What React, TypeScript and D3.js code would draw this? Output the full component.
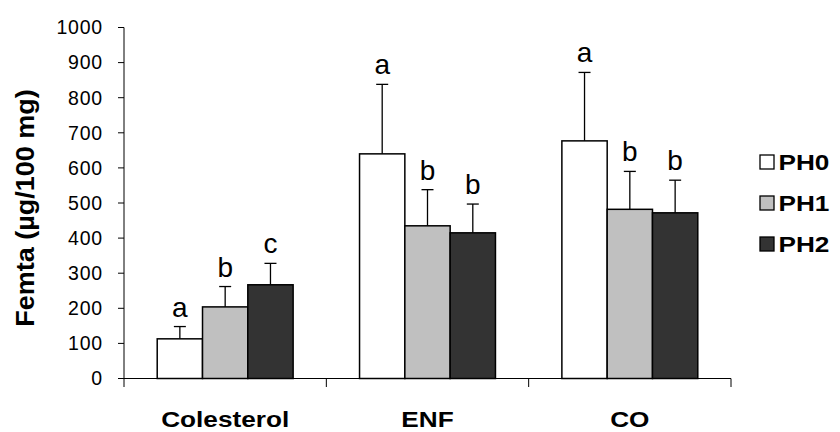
import React from "react";
import * as d3 from "d3";

// Groups along the x axis and the three treatments
const categories = ["Colesterol", "ENF", "CO"];
const seriesNames = ["PH0", "PH1", "PH2"];

// Mean values (µg/100 mg) per treatment, in category order
const ph0Values = [113, 640, 677];
const ph1Values = [204, 435, 482];
const ph2Values = [267, 415, 472];

// Upper error-bar lengths (standard deviation)
const ph0Errors = [35, 198, 195];
const ph1Errors = [58, 103, 108];
const ph2Errors = [61, 82, 93];

// Significance letters placed above each error bar
const ph0Letters = ["a", "a", "a"];
const ph1Letters = ["b", "b", "b"];
const ph2Letters = ["c", "b", "b"];

const yTicks = [0, 100, 200, 300, 400, 500, 600, 700, 800, 900, 1000];

const fills = ["#ffffff", "#c0c0c0", "#333333"];

const FONT = "'Liberation Sans', Arial, Helvetica, sans-serif";

const W = 840;
const H = 432;
const plot = { left: 124, right: 731, top: 27.5, bottom: 378.5 };

type Series = { name: string; values: number[]; errors: number[]; letters: string[]; fill: string };

const series: Series[] = [
  { name: seriesNames[0], values: ph0Values, errors: ph0Errors, letters: ph0Letters, fill: fills[0] },
  { name: seriesNames[1], values: ph1Values, errors: ph1Errors, letters: ph1Letters, fill: fills[1] },
  { name: seriesNames[2], values: ph2Values, errors: ph2Errors, letters: ph2Letters, fill: fills[2] },
];

export default function App() {
  const y = d3.scaleLinear().domain([0, 1000]).range([plot.bottom, plot.top]);
  const x0 = d3.scaleBand<string>().domain(categories).range([plot.left, plot.right]).padding(0);
  const x1 = d3
    .scaleBand<string>()
    .domain(seriesNames)
    .range([0, x0.bandwidth()])
    .paddingInner(0)
    .paddingOuter(0.733);

  const boldStretch = 1.19;

  return (
    <svg
      width={W}
      height={H}
      style={{ position: "absolute", left: 0, top: 0, background: "#fff" }}
      fontFamily={FONT}
    >
      <rect x={0} y={0} width={W} height={H} fill="#fff" />

      {/* y axis */}
      <line x1={plot.left} x2={plot.left} y1={plot.top} y2={plot.bottom + 8.5} stroke="#000" strokeWidth={1} />
      {yTicks.map((t) => (
        <g key={t}>
          <line x1={plot.left - 6} x2={plot.left} y1={y(t)} y2={y(t)} stroke="#000" strokeWidth={1} />
          <text
            x={plot.left - 21}
            y={y(t)}
            dy="0.35em"
            textAnchor="end"
            fontSize={19.5}
            letterSpacing={0.8}
            fill="#000"
          >
            {t}
          </text>
        </g>
      ))}

      {/* x axis with category separators */}
      <line x1={plot.left} x2={plot.right} y1={plot.bottom} y2={plot.bottom} stroke="#000" strokeWidth={1} />
      {categories.map((c) => {
        const xr = (x0(c) as number) + x0.bandwidth();
        return <line key={c} x1={xr} x2={xr} y1={plot.bottom} y2={plot.bottom + 8.5} stroke="#000" strokeWidth={1} />;
      })}

      {/* bars, error bars and letters */}
      {categories.map((c, ci) => (
        <g key={c} transform={`translate(${x0(c)},0)`}>
          {series.map((s) => {
            const bx = x1(s.name) as number;
            const bw = x1.bandwidth();
            const v = s.values[ci];
            const top = y(v + s.errors[ci]);
            const cx = bx + bw / 2;
            return (
              <g key={s.name}>
                <line x1={cx} x2={cx} y1={y(v)} y2={top} stroke="#000" strokeWidth={1.3} />
                <line x1={cx - 6} x2={cx + 6} y1={top} y2={top} stroke="#000" strokeWidth={1.3} />
                <rect
                  x={bx}
                  y={y(v)}
                  width={bw}
                  height={y(0) - y(v)}
                  fill={s.fill}
                  stroke="#000"
                  strokeWidth={1.5}
                />
                <text x={cx} y={top - 10} textAnchor="middle" fontSize={28} fill="#000">
                  {s.letters[ci]}
                </text>
              </g>
            );
          })}
        </g>
      ))}

      {/* category labels */}
      {categories.map((c) => (
        <g key={c} transform={`translate(${(x0(c) as number) + x0.bandwidth() / 2},427) scale(${boldStretch},1)`}>
          <text x={0} y={0} textAnchor="middle" fontSize={22} fontWeight="bold" fill="#000">
            {c}
          </text>
        </g>
      ))}

      {/* y axis title */}
      <g transform={`translate(33.5,208) rotate(-90) scale(1.08,1)`}>
        <text x={0} y={0} textAnchor="middle" fontSize={25} fontWeight="bold" fill="#000">
          Femta (µg/100 mg)
        </text>
      </g>

      {/* legend */}
      {series.map((s, i) => {
        const cy = 162 + i * 41;
        return (
          <g key={s.name}>
            <rect x={760} y={cy - 7} width={14} height={14} fill={s.fill} stroke="#000" strokeWidth={1.3} />
            <g transform={`translate(778.5,${cy + 8}) scale(${boldStretch},1)`}>
              <text x={0} y={0} fontSize={22} fontWeight="bold" fill="#000">
                {s.name}
              </text>
            </g>
          </g>
        );
      })}
    </svg>
  );
}
